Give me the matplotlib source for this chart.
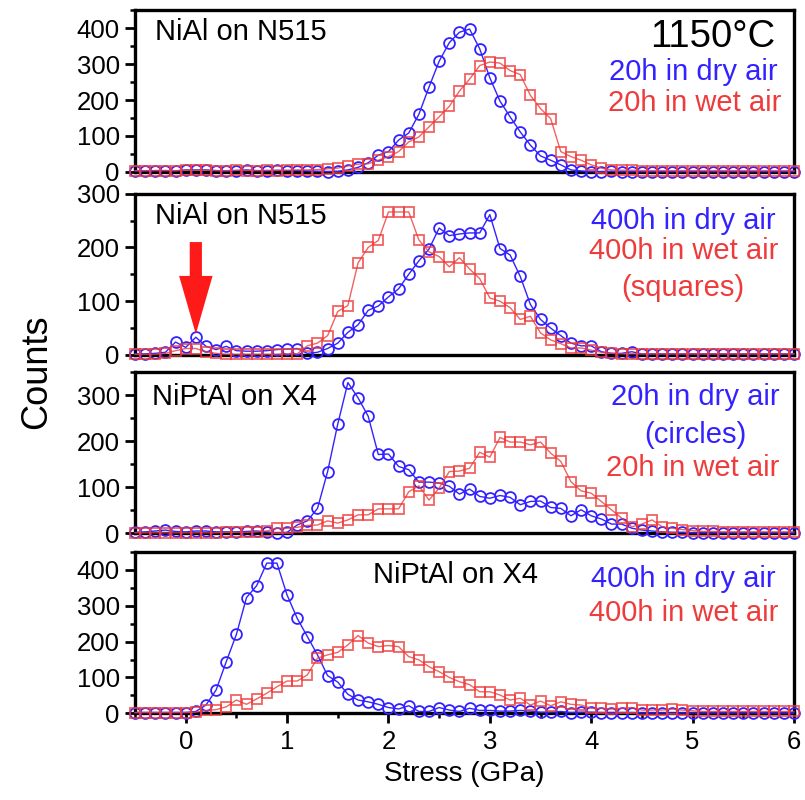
import matplotlib
matplotlib.use("Agg")
import matplotlib.pyplot as plt
from matplotlib.ticker import MultipleLocator

plt.rcParams['font.family'] = ['Liberation Sans', 'DejaVu Sans']

# stress bins (GPa)
stress = [-0.5, -0.4, -0.3, -0.2, -0.1, 0.0, 0.1, 0.2, 0.3, 0.4,
          0.5, 0.6, 0.7, 0.8, 0.9, 1.0, 1.1, 1.2, 1.3, 1.4,
          1.5, 1.6, 1.7, 1.8, 1.9, 2.0, 2.1, 2.2, 2.3, 2.4,
          2.5, 2.6, 2.7, 2.8, 2.9, 3.0, 3.1, 3.2, 3.3, 3.4,
          3.5, 3.6, 3.7, 3.8, 3.9, 4.0, 4.1, 4.2, 4.3, 4.4,
          4.5, 4.6, 4.7, 4.8, 4.9, 5.0, 5.1, 5.2, 5.3, 5.4,
          5.5, 5.6, 5.7, 5.8, 5.9, 6.0]

# NiAl on N515, 20h
nial_20h_dry = [2, 2, 3, 3, 2, 5, 5, 5, 3, 2,
                3, 5, 3, 2, 4, 3, 3, 2, 1, 0,
                1, 5, 12, 25, 46, 56, 88, 108, 160, 236,
                308, 360, 389, 398, 343, 262, 197, 153, 111, 74,
                44, 32, 19, 5, 2, 0, 0, 1, 0, 0,
                0, 0, 0, 0, 0, 0, 0, 0, 0, 0,
                0, 0, 0, 0, 0, 0]
nial_20h_wet = [3, 3, 3, 3, 3, 4, 4, 4, 3, 3,
                4, 3, 3, 4, 3, 4, 5, 5, 6, 8,
                10, 16, 21, 22, 32, 42, 56, 83, 97, 125,
                153, 182, 225, 258, 296, 306, 303, 282, 271, 213,
                176, 148, 56, 42, 32, 19, 10, 5, 4, 4,
                3, 3, 3, 3, 3, 3, 3, 3, 3, 3,
                3, 3, 3, 3, 3, 3]

# NiAl on N515, 400h
nial_400h_dry = [2, 2, 3, 5, 24, 14, 33, 16, 10, 16,
                 8, 7, 7, 8, 10, 11, 12, 3, 5, 12,
                 22, 42, 56, 83, 91, 108, 123, 150, 175, 197,
                 236, 222, 225, 227, 227, 261, 198, 186, 146, 94,
                 66, 50, 36, 22, 17, 17, 6, 3, 3, 6,
                 2, 2, 2, 2, 2, 2, 2, 2, 2, 2,
                 2, 2, 2, 2, 2, 2]
nial_400h_wet = [1, 1, 1, 3, 8, 12, 12, 6, 3, 1,
                 1, 1, 1, 1, 1, 2, 2, 17, 22, 36,
                 81, 92, 171, 200, 213, 266, 266, 266, 214, 192,
                 183, 164, 181, 160, 142, 106, 100, 88, 66, 72,
                 41, 28, 21, 13, 13, 9, 5, 3, 2, 2,
                 2, 2, 2, 2, 2, 2, 2, 2, 2, 2,
                 2, 2, 2, 2, 2, 2]

# NiPtAl on X4, 20h
niptal_20h_dry = [2, 3, 5, 7, 4, 3, 5, 5, 3, 3,
                  3, 4, 5, 3, 0, 2, 18, 27, 54, 134,
                  237, 327, 294, 254, 171, 172, 145, 138, 111, 111,
                  109, 102, 85, 96, 80, 76, 82, 78, 62, 69,
                  70, 56, 54, 38, 51, 38, 31, 20, 20, 11,
                  7, 5, 3, 2, 2, 1, 1, 1, 1, 1,
                  1, 1, 1, 1, 1, 1]
niptal_20h_wet = [1, 1, 1, 1, 1, 1, 1, 1, 1, 2,
                  2, 2, 3, 5, 11, 11, 13, 17, 18, 27,
                  22, 29, 40, 40, 53, 53, 53, 90, 103, 72,
                  98, 134, 135, 141, 176, 165, 208, 198, 198, 192,
                  198, 174, 156, 112, 92, 87, 69, 51, 33, 14,
                  20, 29, 14, 11, 8, 6, 4, 4, 3, 3,
                  3, 3, 3, 3, 3, 3]

# NiPtAl on X4, 400h
niptal_400h_dry = [2, 2, 2, 2, 2, 2, 5, 23, 65, 144,
                   220, 323, 356, 419, 419, 330, 265, 214, 163, 105,
                   87, 53, 37, 32, 25, 16, 12, 21, 5, 5,
                   16, 9, 5, 14, 8, 8, 6, 6, 8, 6,
                   3, 3, 5, 2, 3, 3, 2, 2, 2, 2,
                   1, 1, 1, 1, 1, 1, 1, 1, 1, 1,
                   1, 1, 1, 1, 1, 1]
niptal_400h_wet = [2, 2, 2, 2, 2, 2, 3, 8, 10, 18,
                   37, 25, 40, 56, 74, 90, 90, 107, 154, 163,
                   170, 191, 217, 196, 186, 189, 186, 158, 149, 130,
                   116, 100, 88, 80, 60, 60, 51, 37, 42, 23,
                   34, 21, 32, 25, 23, 14, 14, 12, 14, 16,
                   9, 9, 9, 12, 9, 7, 5, 5, 5, 5,
                   5, 5, 5, 5, 5, 5]

BLUE = '#3322ff'
RED = '#ee3b3b'

panels = [
    (nial_20h_dry, nial_20h_wet, 450, 0.7854),
    (nial_400h_dry, nial_400h_wet, 300, 0.5563),
    (niptal_20h_dry, niptal_20h_wet, 350, 0.3334),
    (niptal_400h_dry, niptal_400h_wet, 450, 0.1084),
]

fig = plt.figure(figsize=(8.05, 8.0), dpi=100)
axes = []
for dry, wet, ytop, bottom in panels:
    ax = fig.add_axes([0.1677, bottom, 0.8186, 0.2016])
    ax.plot(stress, dry, '-o', color=BLUE, lw=1.0, ms=7.8, mfc='none',
            mec=BLUE, mew=1.3, clip_on=False, zorder=3)
    ax.plot(stress, wet, '-s', color=RED, lw=1.0, ms=7.6, mfc='none',
            mec=RED, mew=1.3, alpha=0.8, clip_on=False, zorder=4)
    ax.set_xlim(-0.5, 6.0)
    ax.set_ylim(0, ytop)
    ax.yaxis.set_major_locator(MultipleLocator(100))
    ax.yaxis.set_minor_locator(MultipleLocator(50))
    ax.xaxis.set_major_locator(MultipleLocator(1))
    ax.xaxis.set_minor_locator(MultipleLocator(0.5))
    for sp in ax.spines.values():
        sp.set_linewidth(2.4)
    ax.tick_params(axis='y', which='major', direction='out', length=7,
                   width=2, labelsize=18.5, pad=4)
    ax.tick_params(axis='y', which='minor', direction='out', length=3.5,
                   width=1.8)
    ax.tick_params(axis='x', which='both', bottom=False, labelbottom=False)
    axes.append(ax)

ax4 = axes[3]
ax4.tick_params(axis='x', which='major', bottom=True, labelbottom=True,
                direction='out', length=7, width=2, labelsize=18.5, pad=5)
ax4.tick_params(axis='x', which='minor', bottom=True, direction='out',
                length=3.5, width=1.8)
ax4.set_xlabel('Stress (GPa)', fontsize=20, labelpad=5)
fig.text(0.045, 0.535, 'Counts', rotation=90, fontsize=26,
         ha='center', va='center')

fs = 21
a1, a2, a3, a4 = axes
a1.text(0.03, 0.864, 'NiAl on N515', transform=a1.transAxes, fontsize=fs,
        ha='left', va='center')
a1.text(0.971, 0.835, '1150°C', transform=a1.transAxes, fontsize=27.5,
        ha='right', va='center')
a1.text(0.848, 0.617, '20h in dry air', transform=a1.transAxes, fontsize=fs,
        ha='center', va='center', color=BLUE)
a1.text(0.85, 0.425, '20h in wet air', transform=a1.transAxes, fontsize=fs,
        ha='center', va='center', color=RED)

a2.text(0.03, 0.859, 'NiAl on N515', transform=a2.transAxes, fontsize=fs,
        ha='left', va='center')
a2.text(0.832, 0.828, '400h in dry air', transform=a2.transAxes, fontsize=fs,
        ha='center', va='center', color=BLUE)
a2.text(0.832, 0.642, '400h in wet air', transform=a2.transAxes, fontsize=fs,
        ha='center', va='center', color=RED)
a2.text(0.832, 0.414, '(squares)', transform=a2.transAxes, fontsize=fs,
        ha='center', va='center', color=RED)

# red arrow pointing at the small low-stress peak
arrow_x = 0.1
tip = nial_400h_dry[stress.index(arrow_x)] + 6
a2.arrow(arrow_x, 210, 0, tip - 210, width=0.12, head_width=0.33,
         head_length=108, length_includes_head=True, color='#ff1a1a',
         lw=0, zorder=6)

a3.text(0.026, 0.847, 'NiPtAl on X4', transform=a3.transAxes, fontsize=fs,
        ha='left', va='center')
a3.text(0.851, 0.847, '20h in dry air', transform=a3.transAxes, fontsize=fs,
        ha='center', va='center', color=BLUE)
a3.text(0.851, 0.609, '(circles)', transform=a3.transAxes, fontsize=fs,
        ha='center', va='center', color=BLUE)
a3.text(0.846, 0.403, '20h in wet air', transform=a3.transAxes, fontsize=fs,
        ha='center', va='center', color=RED)

a4.text(0.486, 0.857, 'NiPtAl on X4', transform=a4.transAxes, fontsize=fs,
        ha='center', va='center')
a4.text(0.832, 0.835, '400h in dry air', transform=a4.transAxes, fontsize=fs,
        ha='center', va='center', color=BLUE)
a4.text(0.832, 0.62, '400h in wet air', transform=a4.transAxes, fontsize=fs,
        ha='center', va='center', color=RED)

fig.savefig('out.png', dpi=100)
